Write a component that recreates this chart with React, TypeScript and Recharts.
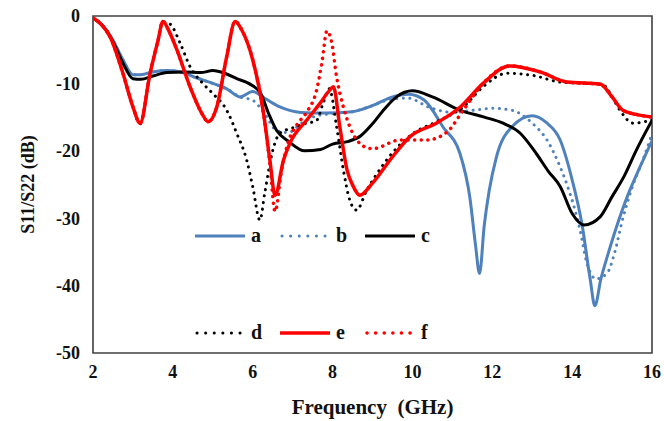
import { LineChart, Line, XAxis, YAxis, ReferenceArea, Legend } from 'recharts'

// S11/S22 return loss per design, [GHz, dB]
const seriesA: [number, number][] = [
  [2.0, -0.3], [2.25, -1.5], [2.5, -3.6], [2.75, -6.5], [3.0, -8.7], [3.2, -8.7], [3.5, -8.3],
  [3.85, -8.1], [4.2, -8.3], [4.6, -9.2], [5.0, -10], [5.35, -10.8], [5.68, -12], [6.0, -11.2],
  [6.3, -12.2], [6.68, -13.5], [7.2, -14.3], [7.8, -14.4], [8.5, -14.2], [9.0, -13.3], [9.5, -12],
  [9.9, -11.6], [10.3, -12.5], [10.77, -16.5], [11.19, -20.4], [11.44, -27], [11.58, -34],
  [11.68, -38.2], [11.8, -31], [11.92, -26], [12.1, -21], [12.5, -16.4], [13.0, -14.8],
  [13.35, -15.8], [13.7, -18.4], [14.0, -24.3], [14.25, -31], [14.45, -39], [14.57, -43],
  [14.72, -39], [14.9, -35.3], [15.1, -31.5], [15.4, -26.5], [15.7, -22.4], [16.0, -18.5],
]

const seriesB: [number, number][] = [
  [2.0, -0.3], [2.25, -1.5], [2.5, -3.6], [2.75, -6.5], [3.0, -8.7], [3.2, -8.7], [3.5, -8.3],
  [3.85, -8.1], [4.2, -8.3], [4.6, -9.2], [5.0, -10], [5.35, -10.8], [5.68, -12], [6.0, -12.5],
  [6.3, -14.5], [6.6, -17], [6.9, -17.3], [7.2, -16], [7.6, -14.8], [8.0, -14.5], [8.5, -14.2],
  [9.0, -13.3], [9.5, -12.3], [9.9, -12.2], [10.4, -13.5], [11.0, -14.3], [11.5, -14],
  [12.0, -13.7], [12.5, -14], [13.0, -15.9], [13.37, -18.4], [13.7, -22.4], [13.87, -25],
  [14.2, -31.8], [14.37, -36.7], [14.6, -39], [14.87, -38.2], [15.07, -35], [15.25, -30.5],
  [15.5, -25.5], [15.77, -21.4], [16.0, -17.5],
]

const seriesC: [number, number][] = [
  [2.0, -0.3], [2.25, -1.5], [2.5, -3.8], [2.75, -7], [3.0, -9.3], [3.2, -9.4], [3.5, -8.9],
  [3.85, -8.4], [4.3, -8.3], [4.7, -8.4], [5.0, -8.1], [5.3, -8.5], [5.6, -9.3], [5.9, -10],
  [6.2, -11.5], [6.4, -14.5], [6.6, -17], [6.9, -18.6], [7.3, -20], [7.7, -19.8], [8.0, -19],
  [8.4, -18.6], [8.7, -17.8], [9.0, -16], [9.3, -13.8], [9.6, -12], [10.0, -11.1], [10.5, -12],
  [11.2, -14], [11.8, -15], [12.27, -15.9], [12.7, -17.4], [13.1, -20.4], [13.4, -23],
  [13.7, -25.3], [14.0, -29.3], [14.3, -31], [14.7, -29.8], [15.0, -26.8], [15.3, -23.8],
  [15.6, -20], [16.0, -15.5],
]

const seriesD: [number, number][] = [
  [2.0, -0.3], [2.2, -1.2], [2.43, -3.1], [2.75, -8.5], [3.0, -13.5], [3.18, -16], [3.43, -8.5],
  [3.63, -3.6], [3.75, -0.9], [3.93, -1.2], [4.18, -4], [4.43, -7.5], [4.75, -10], [5.0, -11.5],
  [5.35, -14], [5.6, -17.4], [5.85, -21.4], [6.0, -25.3], [6.18, -30.3], [6.3, -26.3],
  [6.5, -20], [6.68, -17.4], [7.0, -16.6], [7.3, -16], [7.6, -15.5], [7.76, -13], [7.92, -10.8],
  [8.1, -16.4], [8.27, -22.8], [8.43, -27.3], [8.6, -28.8], [8.86, -25.8], [9.1, -23.5],
  [9.5, -20.3], [10.0, -17.5], [10.6, -15.7], [11.27, -13.5], [11.77, -10.5], [12.37, -8.5],
  [13.0, -8.8], [13.7, -9.8], [14.3, -10], [14.77, -10.2], [15.0, -12], [15.2, -14],
  [15.53, -15.9], [16.0, -15.4],
]

const seriesE: [number, number][] = [
  [2.0, -0.3], [2.2, -1.2], [2.43, -3.1], [2.75, -8.5], [3.0, -13.5], [3.18, -15.9], [3.43, -8.5],
  [3.63, -3.6], [3.75, -0.8], [3.9, -2.2], [4.1, -5], [4.43, -10.5], [4.75, -14.7], [4.88, -15.7],
  [5.1, -13.5], [5.35, -6], [5.56, -0.8], [5.72, -2], [6.0, -6.5], [6.26, -14], [6.43, -21.4],
  [6.56, -26.6], [6.77, -21.4], [6.93, -18.9], [7.36, -15.4], [7.68, -13], [7.93, -11],
  [8.02, -10.5], [8.18, -16.4], [8.36, -22.8], [8.52, -25.3], [8.68, -26.6], [9.0, -24.8],
  [9.5, -20.9], [9.94, -17.9], [10.6, -15.9], [11.2, -13.5], [11.77, -10], [12.44, -7.4],
  [13.2, -8.3], [13.87, -9.8], [14.7, -10.1], [15.0, -12], [15.27, -14], [15.6, -14.6],
  [16.0, -15],
]

const seriesF: [number, number][] = [
  [2.0, -0.3], [2.2, -1.2], [2.43, -3.1], [2.75, -8.5], [3.0, -13.5], [3.18, -15.9], [3.43, -8.5],
  [3.63, -3.6], [3.75, -0.8], [3.9, -2.2], [4.1, -5], [4.43, -10.5], [4.75, -14.7], [4.88, -15.7],
  [5.1, -13.5], [5.35, -6], [5.56, -0.8], [5.72, -2], [6.0, -6.5], [6.26, -14], [6.43, -22],
  [6.56, -29], [6.72, -23], [6.9, -18.5], [7.1, -16.2], [7.36, -14.2], [7.6, -11], [7.73, -7],
  [7.86, -2.2], [7.98, -4], [8.1, -9], [8.27, -13.5], [8.43, -16.4], [8.8, -19.4], [9.0, -19.7],
  [9.69, -18.4], [10.36, -18.4], [10.87, -17.2], [11.27, -14], [11.77, -10], [12.44, -7.4],
  [13.2, -8.3], [13.87, -9.8], [14.7, -10.1], [15.0, -12], [15.27, -14], [15.6, -14.6],
  [16.0, -15],
]

const xTicks = [2, 4, 6, 8, 10, 12, 14, 16]
const yTicks = [-50, -40, -30, -20, -10, 0]
const seriesNames = ['a', 'b', 'c', 'd', 'e', 'f']

const FONT = '"Liberation Serif", "Times New Roman", serif'
const BLUE = '#4f81bd'
const RED = '#ff0000'
const BLACK = '#000000'

type SeriesStyle = { color: string; dotted: boolean; width: number }

const styles: Record<string, SeriesStyle> = {
  a: { color: BLUE, dotted: false, width: 3 },
  b: { color: BLUE, dotted: true, width: 3 },
  c: { color: BLACK, dotted: false, width: 3 },
  d: { color: BLACK, dotted: true, width: 3 },
  e: { color: RED, dotted: false, width: 3.5 },
  f: { color: RED, dotted: true, width: 3.5 },
}

const toPoints = (s: [number, number][]) => s.map(([x, y]) => ({ x, y }))

const seriesData: Record<string, { x: number; y: number }[]> = {
  a: toPoints(seriesA),
  b: toPoints(seriesB),
  c: toPoints(seriesC),
  d: toPoints(seriesD),
  e: toPoints(seriesE),
  f: toPoints(seriesF),
}

// legend slots: two rows of three
const legendRows = [
  { top: 236, names: seriesNames.slice(0, 3) },
  { top: 333, names: seriesNames.slice(3) },
]
const legendCols = [195, 280, 365]

function LegendSwatch({ name }: { name: string }) {
  const st = styles[name]
  return (
    <svg width={50} height={8} style={{ display: 'block' }}>
      <line
        x1={st.dotted ? 2 : 0}
        x2={st.dotted ? 48 : 50}
        y1={4}
        y2={4}
        stroke={st.color}
        strokeWidth={st.width}
        strokeDasharray={st.dotted ? '0.1 8.5' : undefined}
        strokeLinecap={st.dotted ? 'round' : 'butt'}
      />
    </svg>
  )
}

function TwoRowLegend() {
  return (
    <div style={{ position: 'relative', width: 664, height: 421, pointerEvents: 'none' }}>
      {legendRows.map((row) =>
        row.names.map((name, i) => (
          <div
            key={name}
            style={{
              position: 'absolute',
              left: legendCols[i],
              top: row.top - 12,
              height: 24,
              display: 'flex',
              alignItems: 'center',
              gap: 6,
              fontFamily: FONT,
              fontWeight: 'bold',
              fontSize: 20,
              color: '#111',
            }}
          >
            <LegendSwatch name={name} />
            <span style={{ lineHeight: '24px', marginTop: -2 }}>{name}</span>
          </div>
        )),
      )}
    </div>
  )
}

const drawOrder = ['a', 'b', 'c', 'd', 'f', 'e']

export default function App() {
  const tickStyle = { fontFamily: FONT, fontWeight: 'bold' as const, fontSize: 18, fill: '#111' }
  return (
    <div style={{ position: 'absolute', left: 0, top: 0, width: 664, height: 421, background: '#fff' }}>
      <LineChart width={664} height={421} margin={{ top: 16, right: 12, left: 20, bottom: 6 }}>
        <XAxis
          dataKey="x"
          type="number"
          domain={[2, 16]}
          ticks={xTicks}
          allowDataOverflow
          axisLine={false}
          tickLine={false}
          tickSize={0}
          tickMargin={12}
          height={62}
          tick={tickStyle}
          label={{
            value: 'Frequency\u00a0\u00a0(GHz)',
            position: 'insideBottom',
            offset: 1,
            style: { fontFamily: FONT, fontWeight: 'bold', fontSize: 21, fill: '#111' },
          }}
        />
        <YAxis
          type="number"
          domain={[-50, 0]}
          ticks={yTicks}
          allowDataOverflow
          axisLine={false}
          tickLine={false}
          tickSize={0}
          tickMargin={13}
          width={73}
          tick={tickStyle}
          label={{
            value: 'S11/S22 (dB)',
            angle: -90,
            position: 'insideLeft',
            offset: 8,
            style: { fontFamily: FONT, fontWeight: 'bold', fontSize: 18, fill: '#111', textAnchor: 'middle' },
          }}
        />
        <ReferenceArea
          x1={2}
          x2={16}
          y1={-50}
          y2={0}
          fill="none"
          stroke="#404040"
          strokeWidth={1.6}
          ifOverflow="visible"
        />
        {drawOrder.map((name) => {
          const st = styles[name]
          return (
            <Line
              key={name}
              name={name}
              data={seriesData[name]}
              dataKey="y"
              type="monotone"
              stroke={st.color}
              strokeWidth={st.width}
              strokeDasharray={st.dotted ? '0.1 6.5' : undefined}
              strokeLinecap="round"
              strokeLinejoin="round"
              dot={false}
              activeDot={false}
              isAnimationActive={false}
            />
          )
        })}
        <Legend
          layout="horizontal"
          verticalAlign="middle"
          align="center"
          wrapperStyle={{ left: 0, top: 0, width: 664, height: 421 }}
          content={() => <TwoRowLegend />}
        />
      </LineChart>
    </div>
  )
}
